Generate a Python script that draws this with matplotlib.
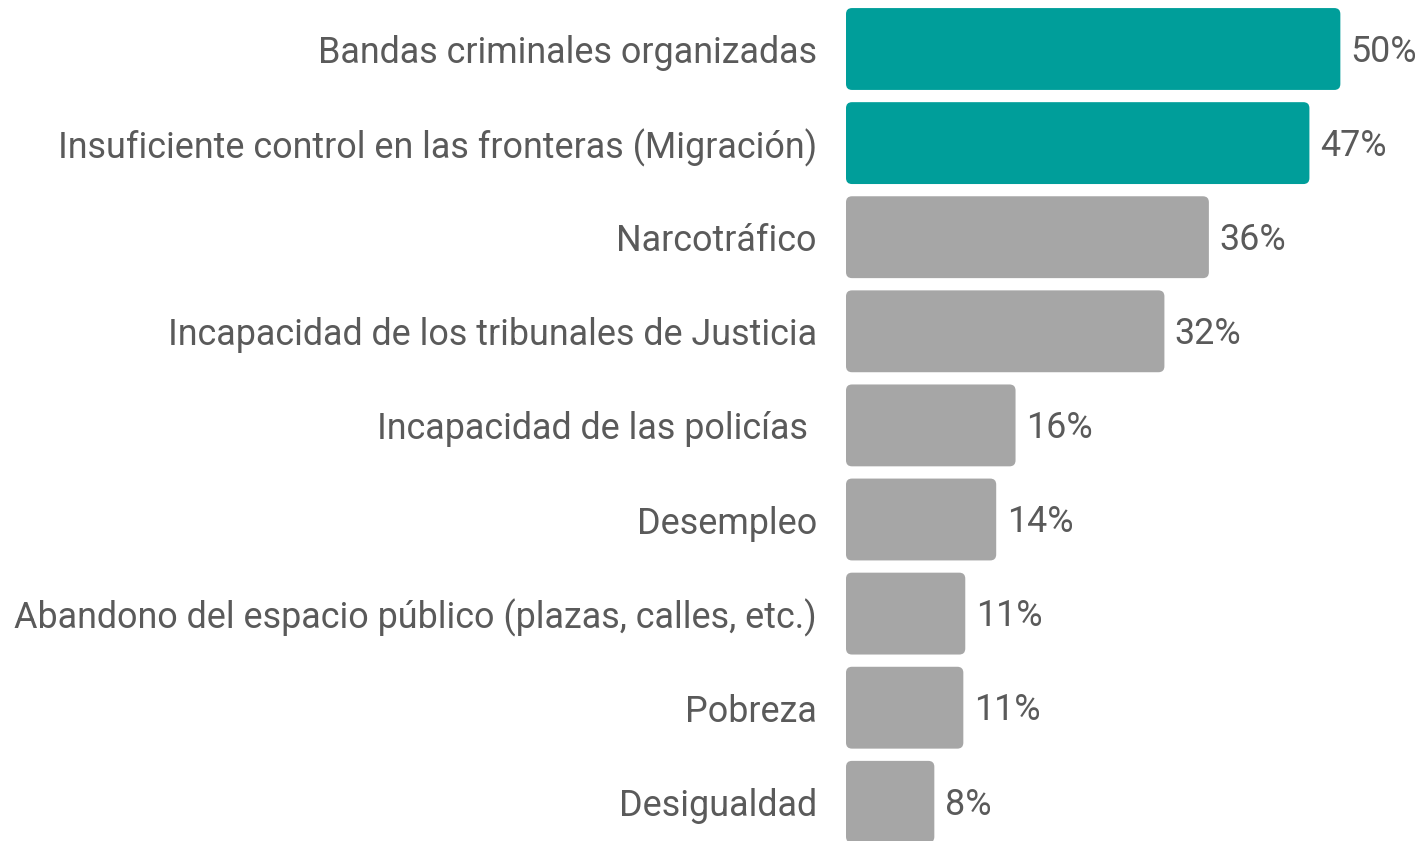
import matplotlib
matplotlib.use("Agg")
import matplotlib.pyplot as plt
from matplotlib.patches import FancyBboxPatch

categories = [
    "Bandas criminales organizadas",
    "Insuficiente control en las fronteras (Migración)",
    "Narcotráfico",
    "Incapacidad de los tribunales de Justicia",
    "Incapacidad de las policías ",
    "Desempleo",
    "Abandono del espacio público (plazas, calles, etc.)",
    "Pobreza",
    "Desigualdad",
]
values = [50.0, 46.8, 36.4, 31.8, 16.4, 14.4, 11.2, 11.0, 8.0]
value_labels = ["50%", "47%", "36%", "32%", "16%", "14%", "11%", "11%", "8%"]
highlight = [True, True, False, False, False, False, False, False, False]

TEAL = "#009E9A"
GRAY = "#A6A6A6"
TEXT = "#5A5A5A"
FONT = ["Roboto", "DejaVu Sans"]
FS = 25.8

W, H = 1425, 841
fig = plt.figure(figsize=(W / 100, H / 100), dpi=100)
ax = fig.add_axes([846 / W, 0, (W - 846) / W, 1])

px_per_unit_x = 9.667
pad = 11 / px_per_unit_x
row_px = 94.1
ax.set_xlim(-pad, -pad + (W - 846) / px_per_unit_x)
ax.set_ylim((H - 49) / row_px, -49 / row_px)

ypos = list(range(len(categories)))
colors = [TEAL if h else GRAY for h in highlight]
bars = ax.barh(ypos, values, height=0.87, color=colors)

r_x = 6 / px_per_unit_x
aspect = (6 / row_px) / r_x
for b, c in zip(bars, colors):
    x0, y0, w, h = b.get_x(), b.get_y(), b.get_width(), b.get_height()
    b.set_visible(False)
    p = FancyBboxPatch((x0 - pad, y0), w + pad, h,
                       boxstyle=f"round,pad=0,rounding_size={r_x}",
                       mutation_aspect=aspect, facecolor=c, edgecolor="none")
    ax.add_patch(p)

for y, v, lab in zip(ypos, values, value_labels):
    ax.annotate(lab, xy=(v, y), xytext=(7.5, -2), textcoords="offset points",
                ha="left", va="center", fontsize=FS, color=TEXT, family=FONT)

ax.set_yticks(ypos)
ax.set_yticklabels(categories, fontsize=FS, color=TEXT, family=FONT)
ax.tick_params(axis="y", length=0, pad=21)
ax.set_xticks([])
for s in ax.spines.values():
    s.set_visible(False)

fig.savefig("out.png", dpi=100)
